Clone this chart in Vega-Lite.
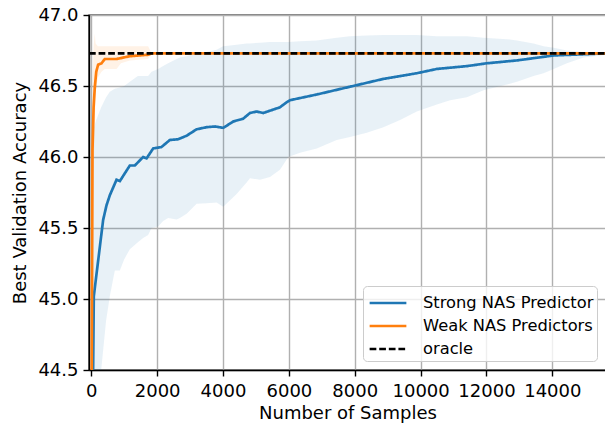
{
  "$schema": "https://vega.github.io/schema/vega-lite/v6.json",
  "autosize": {"type": "none"},
  "padding": {"left": 89, "top": 15, "right": 0, "bottom": 53},
  "width": 517,
  "height": 355,
  "background": "white",
  "config": {
    "font": "DejaVu Sans",
    "view": {"stroke": "black", "strokeWidth": 1.4},
    "axis": {
      "domainColor": "black", "domainWidth": 1.4,
      "tickColor": "black", "tickSize": 6, "tickWidth": 1.4,
      "gridColor": "#b0b0b0", "gridWidth": 1.4,
      "labelFontSize": 18, "titleFontSize": 18, "titleFontWeight": "normal",
      "labelColor": "black", "titleColor": "black", "labelPadding": 5
    },
    "legend": {
      "labelFontSize": 16.3, "labelColor": "black", "labelLimit": 400
    }
  },
  "datasets": {
    "strongBand": [
      {"x": 0, "lo": 43.0, "hi": 45.0},
      {"x": 55, "lo": 43.6, "hi": 46.19},
      {"x": 150, "lo": 44.0, "hi": 46.26},
      {"x": 300, "lo": 44.5, "hi": 46.35},
      {"x": 450, "lo": 44.85, "hi": 46.42},
      {"x": 562, "lo": 45.02, "hi": 46.46},
      {"x": 714, "lo": 45.2, "hi": 46.48},
      {"x": 866, "lo": 45.2, "hi": 46.49},
      {"x": 1000, "lo": 45.28, "hi": 46.5},
      {"x": 1170, "lo": 45.35, "hi": 46.53},
      {"x": 1413, "lo": 45.4, "hi": 46.57},
      {"x": 1574, "lo": 45.43, "hi": 46.57},
      {"x": 1726, "lo": 45.45, "hi": 46.57},
      {"x": 1830, "lo": 45.5, "hi": 46.6},
      {"x": 2030, "lo": 45.51, "hi": 46.62},
      {"x": 2182, "lo": 45.55, "hi": 46.64},
      {"x": 2334, "lo": 45.57, "hi": 46.66},
      {"x": 2590, "lo": 45.56, "hi": 46.69},
      {"x": 2690, "lo": 45.57, "hi": 46.7},
      {"x": 2894, "lo": 45.6, "hi": 46.71},
      {"x": 3198, "lo": 45.67, "hi": 46.73},
      {"x": 3500, "lo": 45.675, "hi": 46.74},
      {"x": 3805, "lo": 45.68, "hi": 46.755},
      {"x": 4006, "lo": 45.65, "hi": 46.78},
      {"x": 4413, "lo": 45.74, "hi": 46.79},
      {"x": 4717, "lo": 45.82, "hi": 46.8},
      {"x": 4818, "lo": 45.85, "hi": 46.8},
      {"x": 5122, "lo": 45.84, "hi": 46.805},
      {"x": 5426, "lo": 45.86, "hi": 46.81},
      {"x": 5729, "lo": 45.91, "hi": 46.81},
      {"x": 5982, "lo": 46.0, "hi": 46.81},
      {"x": 6337, "lo": 46.03, "hi": 46.815},
      {"x": 6845, "lo": 46.06, "hi": 46.82},
      {"x": 7453, "lo": 46.12, "hi": 46.84},
      {"x": 7857, "lo": 46.14, "hi": 46.85},
      {"x": 8365, "lo": 46.17, "hi": 46.855},
      {"x": 8870, "lo": 46.21, "hi": 46.86},
      {"x": 9377, "lo": 46.26, "hi": 46.86},
      {"x": 9884, "lo": 46.32, "hi": 46.86},
      {"x": 10492, "lo": 46.37, "hi": 46.85},
      {"x": 10897, "lo": 46.4, "hi": 46.85},
      {"x": 11404, "lo": 46.42, "hi": 46.85},
      {"x": 11910, "lo": 46.47, "hi": 46.84},
      {"x": 12620, "lo": 46.51, "hi": 46.83},
      {"x": 12924, "lo": 46.53, "hi": 46.82},
      {"x": 13429, "lo": 46.57, "hi": 46.8},
      {"x": 13733, "lo": 46.59, "hi": 46.78},
      {"x": 14040, "lo": 46.62, "hi": 46.77},
      {"x": 14443, "lo": 46.66, "hi": 46.75},
      {"x": 14951, "lo": 46.7, "hi": 46.74},
      {"x": 15630, "lo": 46.72, "hi": 46.73}
    ],
    "weakBand": [
      {"x": 0, "lo": 42.0, "hi": 44.5},
      {"x": 20, "lo": 43.5, "hi": 45.9},
      {"x": 40, "lo": 45.0, "hi": 46.5},
      {"x": 70, "lo": 45.9, "hi": 46.78},
      {"x": 106, "lo": 46.2, "hi": 46.87},
      {"x": 130, "lo": 46.45, "hi": 46.8},
      {"x": 200, "lo": 46.56, "hi": 46.78},
      {"x": 310, "lo": 46.6, "hi": 46.78},
      {"x": 410, "lo": 46.62, "hi": 46.78},
      {"x": 766, "lo": 46.62, "hi": 46.78},
      {"x": 900, "lo": 46.66, "hi": 46.78},
      {"x": 1170, "lo": 46.68, "hi": 46.78},
      {"x": 1726, "lo": 46.69, "hi": 46.78},
      {"x": 1830, "lo": 46.73, "hi": 46.73},
      {"x": 15630, "lo": 46.73, "hi": 46.73}
    ],
    "lines": [
      {"series": "Strong NAS Predictor", "x": 0, "y": 43.5},
      {"series": "Strong NAS Predictor", "x": 55, "y": 44.5},
      {"series": "Strong NAS Predictor", "x": 76, "y": 45.02},
      {"series": "Strong NAS Predictor", "x": 359, "y": 45.556},
      {"series": "Strong NAS Predictor", "x": 462, "y": 45.66},
      {"series": "Strong NAS Predictor", "x": 562, "y": 45.73},
      {"series": "Strong NAS Predictor", "x": 766, "y": 45.84},
      {"series": "Strong NAS Predictor", "x": 866, "y": 45.83},
      {"series": "Strong NAS Predictor", "x": 1170, "y": 45.94},
      {"series": "Strong NAS Predictor", "x": 1322, "y": 45.94},
      {"series": "Strong NAS Predictor", "x": 1574, "y": 46.0},
      {"series": "Strong NAS Predictor", "x": 1678, "y": 45.99},
      {"series": "Strong NAS Predictor", "x": 1878, "y": 46.06},
      {"series": "Strong NAS Predictor", "x": 2130, "y": 46.07},
      {"series": "Strong NAS Predictor", "x": 2386, "y": 46.12},
      {"series": "Strong NAS Predictor", "x": 2638, "y": 46.125},
      {"series": "Strong NAS Predictor", "x": 2894, "y": 46.15},
      {"series": "Strong NAS Predictor", "x": 3198, "y": 46.195},
      {"series": "Strong NAS Predictor", "x": 3502, "y": 46.21},
      {"series": "Strong NAS Predictor", "x": 3754, "y": 46.215},
      {"series": "Strong NAS Predictor", "x": 4006, "y": 46.205},
      {"series": "Strong NAS Predictor", "x": 4310, "y": 46.25},
      {"series": "Strong NAS Predictor", "x": 4614, "y": 46.27},
      {"series": "Strong NAS Predictor", "x": 4818, "y": 46.31},
      {"series": "Strong NAS Predictor", "x": 5021, "y": 46.32},
      {"series": "Strong NAS Predictor", "x": 5222, "y": 46.31},
      {"series": "Strong NAS Predictor", "x": 5477, "y": 46.33},
      {"series": "Strong NAS Predictor", "x": 5729, "y": 46.35},
      {"series": "Strong NAS Predictor", "x": 5900, "y": 46.38},
      {"series": "Strong NAS Predictor", "x": 6033, "y": 46.4},
      {"series": "Strong NAS Predictor", "x": 6845, "y": 46.44},
      {"series": "Strong NAS Predictor", "x": 7857, "y": 46.495},
      {"series": "Strong NAS Predictor", "x": 8870, "y": 46.55},
      {"series": "Strong NAS Predictor", "x": 9884, "y": 46.59},
      {"series": "Strong NAS Predictor", "x": 10492, "y": 46.62},
      {"series": "Strong NAS Predictor", "x": 11404, "y": 46.64},
      {"series": "Strong NAS Predictor", "x": 12012, "y": 46.66},
      {"series": "Strong NAS Predictor", "x": 12924, "y": 46.68},
      {"series": "Strong NAS Predictor", "x": 14040, "y": 46.715},
      {"series": "Strong NAS Predictor", "x": 15630, "y": 46.73},
      {"series": "Weak NAS Predictors", "x": 0, "y": 43.0},
      {"series": "Weak NAS Predictors", "x": 15, "y": 44.6},
      {"series": "Weak NAS Predictors", "x": 36, "y": 46.05},
      {"series": "Weak NAS Predictors", "x": 70, "y": 46.35},
      {"series": "Weak NAS Predictors", "x": 106, "y": 46.49},
      {"series": "Weak NAS Predictors", "x": 150, "y": 46.6},
      {"series": "Weak NAS Predictors", "x": 207, "y": 46.65},
      {"series": "Weak NAS Predictors", "x": 310, "y": 46.66},
      {"series": "Weak NAS Predictors", "x": 410, "y": 46.69},
      {"series": "Weak NAS Predictors", "x": 766, "y": 46.69},
      {"series": "Weak NAS Predictors", "x": 866, "y": 46.695},
      {"series": "Weak NAS Predictors", "x": 1170, "y": 46.71},
      {"series": "Weak NAS Predictors", "x": 1726, "y": 46.72},
      {"series": "Weak NAS Predictors", "x": 1830, "y": 46.73},
      {"series": "Weak NAS Predictors", "x": 15630, "y": 46.73}
    ],
    "oracle": [
      {"series": "oracle", "x": -70, "y": 46.73},
      {"series": "oracle", "x": 15630, "y": 46.73}
    ]
  },
  "encoding": {
    "x": {
      "field": "x", "type": "quantitative",
      "scale": {"domain": [-70, 15630], "nice": false, "zero": false},
      "axis": {"values": [0, 2000, 4000, 6000, 8000, 10000, 12000, 14000], "title": "Number of Samples", "format": "d", "labelPadding": 6, "titlePadding": 4}
    }
  },
  "layer": [
    {
      "data": {"name": "strongBand"},
      "mark": {"type": "area", "color": "#1f77b4", "opacity": 0.1, "clip": true},
      "encoding": {
        "y": {"field": "lo", "type": "quantitative",
          "scale": {"domain": [44.5, 47.0], "nice": false, "zero": false},
          "axis": {"values": [44.5, 45.0, 45.5, 46.0, 46.5, 47.0], "format": ".1f", "title": "Best Validation Accuracy", "titlePadding": 8}},
        "y2": {"field": "hi"}
      }
    },
    {
      "data": {"name": "weakBand"},
      "mark": {"type": "area", "color": "#ff7f0e", "opacity": 0.1, "clip": true},
      "encoding": {
        "y": {"field": "lo", "type": "quantitative"},
        "y2": {"field": "hi"}
      }
    },
    {
      "data": {"name": "lines"},
      "mark": {"type": "line", "clip": true},
      "encoding": {
        "y": {"field": "y", "type": "quantitative"},
        "color": {"field": "series", "type": "nominal",
          "scale": {"domain": ["Strong NAS Predictor", "Weak NAS Predictors", "oracle"], "range": ["#1f77b4", "#ff7f0e", "black"]},
          "legend": {"title": null, "orient": "bottom-right", "offset": 9, "symbolType": "M-1.5,0H1.5", "symbolSize": 600, "symbolOffset": 8, "symbolFillColor": "transparent", "fillColor": "rgba(255,255,255,0.8)", "strokeColor": "#cccccc", "cornerRadius": 4, "padding": 3, "rowPadding": 0, "labelOffset": 21}},
        "strokeDash": {"field": "series", "type": "nominal",
          "scale": {"domain": ["Strong NAS Predictor", "Weak NAS Predictors", "oracle"], "range": [[1, 0], [1, 0], [6.7, 2.9]]},
          "legend": {"title": null, "orient": "bottom-right", "offset": 9, "symbolType": "M-1.5,0H1.5", "symbolSize": 600, "symbolOffset": 8, "symbolFillColor": "transparent", "fillColor": "rgba(255,255,255,0.8)", "strokeColor": "#cccccc", "cornerRadius": 4, "padding": 3, "rowPadding": 0, "labelOffset": 21}},
        "strokeWidth": {"field": "series", "type": "nominal",
          "scale": {"domain": ["Strong NAS Predictor", "Weak NAS Predictors", "oracle"], "range": [2.7, 2.7, 1.8]},
          "legend": {"title": null, "orient": "bottom-right", "offset": 9, "symbolType": "M-1.5,0H1.5", "symbolSize": 600, "symbolOffset": 8, "symbolFillColor": "transparent", "fillColor": "rgba(255,255,255,0.8)", "strokeColor": "#cccccc", "cornerRadius": 4, "padding": 3, "rowPadding": 0, "labelOffset": 21}}
      }
    },
    {
      "data": {"name": "oracle"},
      "mark": {"type": "line", "clip": true},
      "encoding": {
        "y": {"field": "y", "type": "quantitative"},
        "color": {"field": "series", "type": "nominal"},
        "strokeDash": {"field": "series", "type": "nominal"},
        "strokeWidth": {"field": "series", "type": "nominal"}
      }
    }
  ]
}
